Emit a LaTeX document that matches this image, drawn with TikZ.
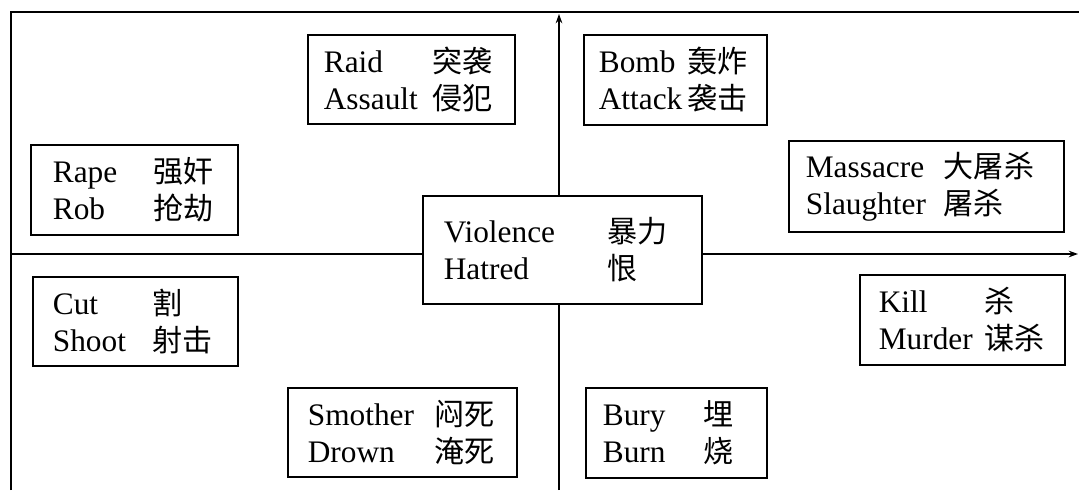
\documentclass[tikz,border=0pt]{standalone}
\usepackage{fontspec}
\setmainfont{Liberation Serif}
\newfontfamily\cjk[Scale=0.96]{Noto Sans CJK SC}
\usetikzlibrary{arrows.meta}
\newcommand\zh[1]{{\cjk #1}}
% \two{margin}{col1 width}{en1}{zh1}{en2}{zh2}
\newcommand\two[6]{\hspace*{#1}\makebox[#2][l]{#3}\zh{#4}\\\hspace*{#1}\makebox[#2][l]{#5}\zh{#6}}
\tikzset{
  wbox/.style={draw, line width=1.3pt, anchor=north west, inner xsep=0pt, inner ysep=0pt,
    font=\fontsize{23.5}{27.75}\selectfont},
  axis/.style={line width=1pt},
  frame/.style={line width=1.3pt},
  tip/.style={-{Stealth[length=7pt,width=5pt]}}
}
\begin{document}
\begin{tikzpicture}[x=0.75pt,y=-0.75pt]
\useasboundingbox (0,0) rectangle (1079,490);
% frame coordinates
\coordinate (ftl) at (11,12);
\coordinate (ftr) at (1079,12);
\coordinate (fbl) at (11,490);
\draw[frame] (fbl) -- (ftl) -- (ftr);
% boxes
\node[wbox, text width=155.25pt, minimum height=66.75pt] (raid) at (307,34)
  {\two{12pt}{81.75pt}{Raid}{突袭}{Assault}{侵犯}};
\node[wbox, text width=137.25pt, minimum height=67.5pt] (bomb) at (583,34)
  {\two{11.25pt}{66.75pt}{Bomb}{轰炸}{Attack}{袭击}};
\node[wbox, text width=206.25pt, minimum height=68.25pt] (mass) at (788,140)
  {\two{12.75pt}{103.5pt}{Massacre}{大屠杀}{Slaughter}{屠杀}};
\node[wbox, text width=155.25pt, minimum height=67.5pt] (rape) at (30,144)
  {\two{16.5pt}{75.75pt}{Rape}{强奸}{Rob}{抢劫}};
\node[wbox, text width=209.25pt, minimum height=81pt] (center) at (422,195)
  {\two{15.75pt}{123pt}{Violence}{暴力}{Hatred}{恨}};
\node[wbox, text width=153.75pt, minimum height=66.75pt] (cut) at (32,276)
  {\two{15pt}{75pt}{Cut}{割}{Shoot}{射击}};
\node[wbox, text width=153.75pt, minimum height=67.5pt] (kill) at (859,274)
  {\two{14.25pt}{79.5pt}{Kill}{杀}{Murder}{谋杀}};
\node[wbox, text width=171.75pt, minimum height=66.75pt] (smother) at (287,387)
  {\two{15pt}{95.25pt}{Smother}{闷死}{Drown}{淹死}};
\node[wbox, text width=135.75pt, minimum height=67.5pt] (bury) at (585,387)
  {\two{12.75pt}{75.75pt}{Bury}{埋}{Burn}{烧}};
% axes
\coordinate (xl) at (11,254);
\coordinate (xr) at (1078,254);
\coordinate (yt) at (559,14);
\coordinate (yb) at (559,490);
\draw[axis] (xl) -- (xl -| center.west);
\draw[axis, tip] (xr -| center.east) -- (xr);
\draw[axis] (yb) -- (yb |- center.south);
\draw[axis, tip] (yt |- center.north) -- (yt);
\end{tikzpicture}
\end{document}
